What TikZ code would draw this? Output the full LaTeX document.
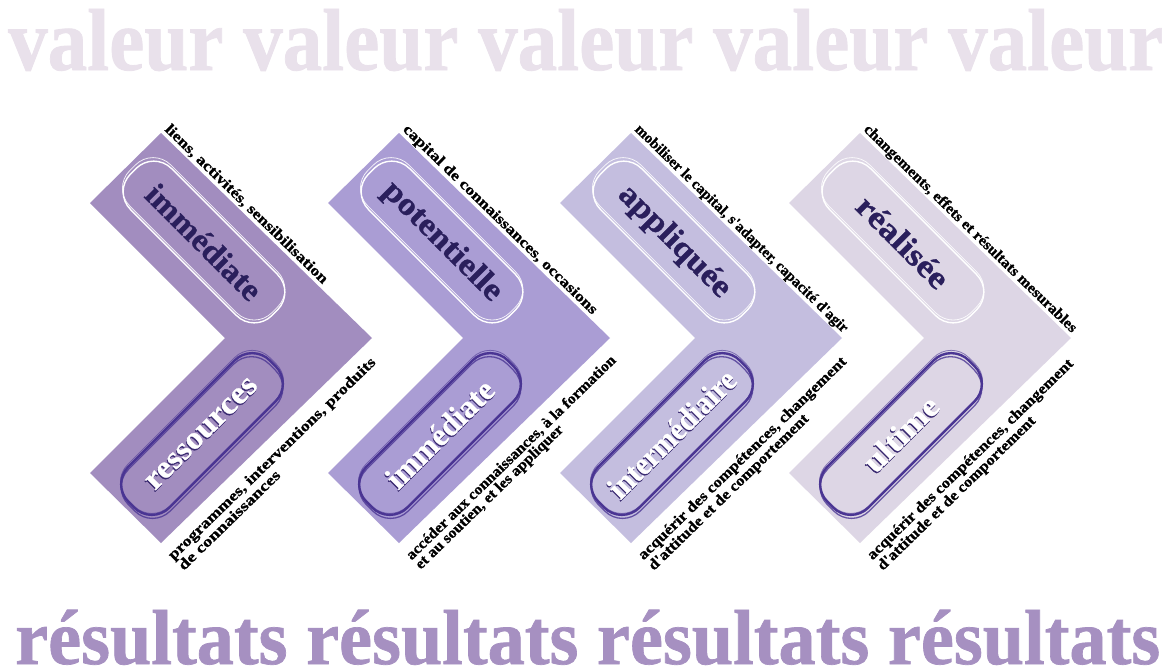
\documentclass[tikz,border=0pt]{standalone}
\usepackage{fontspec}
\usepackage{graphicx}
\setmainfont{Liberation Serif}
% heavier cut of the bold serif for all lettering
\newfontfamily\heavyserif{Liberation Serif}[BoldFeatures={FakeBold=0.9}]

\definecolor{valeurgray}{HTML}{E9E1EB}
\definecolor{resultmauve}{HTML}{A690C1}
\definecolor{chevA}{HTML}{A28DBF}
\definecolor{chevB}{HTML}{AA9DD4}
\definecolor{chevC}{HTML}{C4BEDF}
\definecolor{chevD}{HTML}{DDD6E5}
\definecolor{inkNavy}{HTML}{2A1F5C}
\definecolor{inkDeep}{HTML}{4A3593}
\definecolor{inkShadow}{HTML}{38286F}

% stretch a text horizontally to a given width, keeping its height
\newcommand{\fitto}[2]{\resizebox{#1}{\height}{#2}}
% white lettering with a dark drop shadow behind it
\newcommand{\embossed}[2]{\fitto{#1}{\rlap{\kern-1.4pt\raisebox{-0.7pt}{\textcolor{inkShadow}{#2}}}#2}}
\newcommand{\pllfont}{\heavyserif\bfseries\fontsize{32}{34}\selectfont}
\newcommand{\lblfont}{\heavyserif\bfseries\fontsize{15}{13}\selectfont}

\tikzset{
  chevbody/.style={fill=#1, draw=none},
  pillbase/.style={rectangle, rounded corners=25pt, minimum width=200pt,
    minimum height=58pt, inner sep=0pt, line join=round},
  toppill/.style={pillbase, rotate=-45, draw=white, line width=1.4pt,
    text=inkNavy, font=\pllfont},
  botpill/.style={pillbase, rotate=45, draw=inkDeep, line width=2.4pt,
    text=white, font=\pllfont},
  topsketch/.style={draw=white, line width=0.8pt, rounded corners=25pt, opacity=0.85},
  botsketch/.style={draw=inkDeep, line width=1.3pt, rounded corners=25pt, opacity=0.8},
  toplabel/.style={rotate=-44.2, anchor=north west, inner sep=0pt, font=\lblfont, text=black},
  botlabel/.style={rotate=44.2, anchor=north west, inner sep=0pt, align=left,
    font=\lblfont, text=black},
  bigword/.style={anchor=base west, inner sep=0pt},
}

% chevron body with the sketched second outlines of its two pills
\newcommand{\chevronbody}[1]{%
  \fill[chevbody=#1] (-211,-205) -- (0,0) -- (-211,205) -- (-282,135)
    -- (-147,0) -- (-282,-135) -- cycle;
  \begin{scope}[shift={(-168,-96)}, rotate=-45]
    \draw[topsketch] (-103,-31) rectangle (98,27);
  \end{scope}
  \begin{scope}[shift={(-170,96)}, rotate=45]
    \draw[botsketch] (-102,-27) rectangle (97,32);
    \draw[botsketch, line width=0.8pt, opacity=0.6] (-99,-31) rectangle (102,28);
  \end{scope}
}

\begin{document}
\begin{tikzpicture}[x=1pt, y=-1pt]
  \useasboundingbox (0,0) rectangle (1171,672);
  \fill[white] (0,0) rectangle (1171,672);

  \node[bigword, text=valeurgray, font=\heavyserif\bfseries\fontsize{88}{94}\selectfont]
    (valeurs) at (8,70) {\fitto{1155pt}{valeur valeur valeur valeur valeur}};
  \node[bigword, text=resultmauve, font=\heavyserif\bfseries\fontsize{78}{84}\selectfont]
    (resultats) at (15,664) {\fitto{1145pt}{résultats résultats résultats résultats}};

  % ---- immédiate / ressources
  \begin{scope}[shift={(372,338)}]
    \chevronbody{chevA}
    \node[toppill] (pillA) at (-168,-96) {\fitto{150pt}{immédiate}};
    \node[botpill] (baseA) at (-170,96) {\embossed{147pt}{ressources}};
    \node[toplabel] (upA) at (-200.5,-215.5) {\fitto{221pt}{liens, activités, sensibilisation}};
    \node[botlabel] (lowA) at (-206,215)
      {\fitto{283pt}{programmes, interventions, produits}\\\fitto{136pt}{de connaissances}};
  \end{scope}

  % ---- potentielle / immédiate
  \begin{scope}[shift={(610,338)}]
    \chevronbody{chevB}
    \node[toppill] (pillB) at (-168,-96) {\fitto{156pt}{potentielle}};
    \node[botpill] (baseB) at (-170,96) {\embossed{139pt}{immédiate}};
    \node[toplabel] (upB) at (-200.5,-215.5) {\fitto{265pt}{capital de connaissances, occasions}};
    \node[botlabel] (lowB) at (-206,215)
      {\fitto{286pt}{accéder aux connaissances, à la formation}\\\fitto{200pt}{et au soutien, et les appliquer}};
  \end{scope}

  % ---- appliquée / intermédiaire
  \begin{scope}[shift={(842,338)}]
    \chevronbody{chevC}
    \node[toppill] (pillC) at (-168,-96) {\fitto{146pt}{appliquée}};
    \node[botpill] (baseC) at (-170,96) {\embossed{167pt}{intermédiaire}};
    \node[toplabel] (upC) at (-200.5,-215.5) {\fitto{291pt}{mobiliser le capital, s'adapter, capacité d'agir}};
    \node[botlabel] (lowC) at (-206,215)
      {\fitto{284pt}{acquérir des compétences, changement}\\\fitto{217pt}{d'attitude et de comportement}};
  \end{scope}

  % ---- réalisée / ultime
  \begin{scope}[shift={(1071,338)}]
    \chevronbody{chevD}
    \node[toppill] (pillD) at (-168,-96) {\fitto{117pt}{réalisée}};
    \node[botpill] (baseD) at (-170,96) {\embossed{93pt}{ultime}};
    \node[toplabel] (upD) at (-200.5,-215.5) {\fitto{291pt}{changements, effets et résultats mesurables}};
    \node[botlabel] (lowD) at (-206,215)
      {\fitto{281pt}{acquérir des compétences, changement}\\\fitto{214pt}{d'attitude et de comportement}};
  \end{scope}
\end{tikzpicture}
\end{document}
